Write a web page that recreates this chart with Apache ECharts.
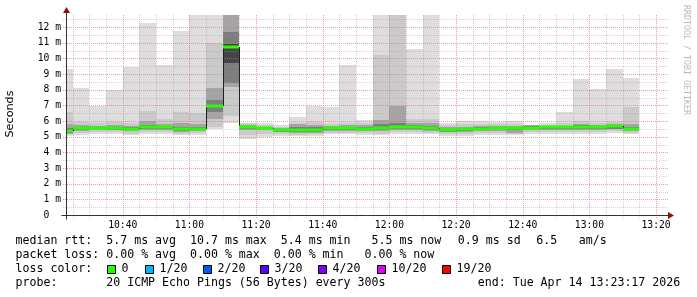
<!DOCTYPE html>
<html><head><meta charset="utf-8">
<script src="https://cdn.jsdelivr.net/npm/echarts@6/dist/echarts.min.js"></script>
<style>html,body{margin:0;padding:0;background:#fff}#c{width:697px;height:297px}</style>
</head><body><div id="c"></div>
<script>
// ---- data ----
const startTime = '10:23:17';
const endTime = '13:23:17';
const slotTimes = ['10:20','10:25','10:30','10:35','10:40','10:45','10:50','10:55','11:00','11:05','11:10','11:15','11:20','11:25','11:30','11:35','11:40','11:45','11:50','11:55','12:00','12:05','12:10','12:15','12:20','12:25','12:30','12:35','12:40','12:45','12:50','12:55','13:00','13:05','13:10'];
const median = [5.35,5.55,5.57,5.55,5.50,5.60,5.62,5.48,5.52,6.96,10.70,5.59,5.57,5.40,5.40,5.42,5.53,5.53,5.49,5.57,5.64,5.64,5.53,5.41,5.46,5.51,5.55,5.55,5.56,5.59,5.59,5.59,5.59,5.67,5.51];
const ping20 = [9.31,8.12,6.97,7.99,9.48,12.29,9.59,11.76,13.5,13.5,13.5,5.90,5.85,5.72,6.23,6.93,6.87,9.59,6.08,13.5,13.5,10.60,13.5,5.85,5.97,5.97,5.91,6.01,5.76,5.87,6.55,8.69,8.06,9.34,8.75];
const ping19 = [6.60,5.95,5.85,5.95,5.90,6.61,6.10,6.60,6.50,10.97,13.5,5.85,5.75,5.65,5.90,5.95,5.80,5.85,5.85,10.22,13.5,6.10,6.10,5.75,5.80,5.80,5.78,5.80,5.74,5.75,5.85,6.00,5.90,5.95,6.87];
const ping17 = [5.80,5.75,5.70,5.75,5.70,6.00,5.80,5.85,5.80,8.10,13.5,5.75,5.65,5.55,5.80,5.75,5.70,5.72,5.72,6.05,6.97,5.85,5.85,5.60,5.62,5.68,5.68,5.68,5.72,5.68,5.70,5.80,5.75,5.82,5.80];
const ping15 = [5.55,5.65,5.65,5.65,5.60,5.72,5.70,5.62,5.63,7.36,11.70,5.68,5.62,5.48,5.60,5.60,5.62,5.62,5.60,5.80,5.85,5.72,5.70,5.50,5.55,5.60,5.62,5.62,5.70,5.64,5.65,5.74,5.68,5.75,5.65];
const ping12 = [5.42,5.59,5.61,5.59,5.54,5.64,5.66,5.53,5.56,7.02,10.90,5.62,5.59,5.43,5.45,5.46,5.57,5.56,5.52,5.62,5.70,5.66,5.58,5.44,5.49,5.54,5.58,5.58,5.60,5.61,5.62,5.63,5.63,5.70,5.55];
const ping09 = [5.30,5.50,5.53,5.50,5.46,5.55,5.57,5.44,5.48,6.90,9.70,5.56,5.52,5.37,5.37,5.38,5.50,5.50,5.46,5.53,5.60,5.58,5.50,5.38,5.43,5.48,5.52,5.50,5.52,5.56,5.56,5.55,5.56,5.60,5.47];
const ping06 = [5.25,5.43,5.48,5.45,5.40,5.48,5.50,5.38,5.44,6.60,8.40,5.50,5.48,5.33,5.32,5.33,5.45,5.45,5.42,5.45,5.52,5.50,5.45,5.33,5.38,5.43,5.47,5.40,5.47,5.51,5.52,5.50,5.50,5.52,5.42];
const ping04 = [5.20,5.35,5.40,5.40,5.35,5.40,5.40,5.33,5.38,6.10,8.20,5.40,5.40,5.28,5.25,5.25,5.38,5.38,5.35,5.35,5.42,5.42,5.38,5.27,5.30,5.35,5.38,5.25,5.40,5.43,5.45,5.42,5.42,5.47,5.36];
const ping02 = [5.15,5.22,5.30,5.30,5.20,5.30,5.30,5.20,5.25,5.65,6.30,5.10,5.20,5.15,5.12,5.15,5.25,5.25,5.25,5.20,5.30,5.32,5.25,5.15,5.18,5.22,5.25,5.15,5.28,5.30,5.32,5.30,5.30,5.35,5.25];
const ping01 = [5.06,5.08,5.20,5.20,5.12,5.19,5.20,5.12,5.12,5.50,5.87,4.85,5.00,5.02,5.02,5.05,5.17,5.17,5.10,5.10,5.20,5.20,5.15,5.05,5.06,5.12,5.12,5.08,5.15,5.18,5.20,5.20,5.20,5.25,5.18];
const xTickLabels = ['10:40','11:00','11:20','11:40','12:00','12:20','12:40','13:00','13:20'];
const yTickValues = [0,1,2,3,4,5,6,7,8,9,10,11,12];
const lossLabels = ['0','1/20','2/20','3/20','4/20','10/20','19/20'];
const lossColors = ['#26ff00','#00b8ff','#0059ff','#5e00ff','#7e00ff','#dd00ff','#ff0000'];
const legendPieces = [
  ['median rtt:  5.7 ms avg  10.7 ms max  5.4 ms min   5.5 ms now', 0],
  ['0.9 ms sd', 0], ['6.5', 0], ['am/s', 0],
  ['packet loss: 0.00 % avg  0.00 % max  0.00 % min   0.00 % now', 1],
  ['loss color:', 2],
  ['probe:       20 ICMP Echo Pings (56 Bytes) every 300s', 3],
  ['end: Tue Apr 14 13:23:17 2026', 3]
];

// ---- helpers ----
const toMin = s => { const p = s.split(':').map(Number); return p[0]*60 + p[1] + (p[2]||0)/60; };
const X_MIN = toMin(startTime), X_MAX = toMin(endTime);
const Y_MAX = 12.77;
const SLOT = 5;
const slotMin = slotTimes.map(toMin);
const bands = [
  {lo: ping01, hi: ping20, color: '#dddddd'},
  {lo: ping02, hi: ping19, color: '#cacaca'},
  {lo: ping04, hi: ping17, color: '#a4a4a4'},
  {lo: ping06, hi: ping15, color: '#7e7e7e'},
  {lo: ping09, hi: ping12, color: '#454545'}
];
const fmtTime = v => { const h = Math.floor(v/60 + 1e-6); const m = Math.round(v - h*60); return h + ':' + (m<10?'0':'') + m; };

// grid lines
const gridData = [];
yTickValues.forEach(v => { if (v > 0) gridData.push([X_MIN, v, 1]); if (v + 0.5 < Y_MAX) gridData.push([X_MIN, v + 0.5, 0]); });
for (let t = Math.ceil(X_MIN/5)*5; t < X_MAX; t += 5) gridData.push([t, 0, (t % 20 === 0) ? 3 : 2]);

const chart = echarts.init(document.getElementById('c'), null, {renderer: 'canvas'});

function slotX(api, i) {
  const t0 = Math.max(slotMin[i], X_MIN), t1 = Math.min(slotMin[i] + SLOT, X_MAX);
  return [Math.round(api.coord([t0, 0])[0]), Math.round(api.coord([t1, 0])[0])];
}
function yPix(api, v) { return Math.round(api.coord([X_MIN, Math.min(v, Y_MAX)])[1]); }

const monoAxis = {fontFamily: 'DejaVu Sans Mono', fontSize: 9.7, color: '#000'};

chart.setOption({
  animation: false,
  backgroundColor: '#fff',
  grid: {left: 67, top: 15, width: 600, height: 200},
  xAxis: {
    type: 'value', min: X_MIN, max: X_MAX,
    axisLine: {show: false}, axisTick: {show: false}, splitLine: {show: false},
    axisLabel: Object.assign({customValues: xTickLabels.map(toMin), formatter: v => fmtTime(v), margin: 5}, monoAxis)
  },
  yAxis: {
    type: 'value', min: 0, max: Y_MAX,
    axisLine: {show: false}, axisTick: {show: false}, splitLine: {show: false},
    axisLabel: Object.assign({customValues: yTickValues, formatter: v => v === 0 ? '0  ' : v + ' m', margin: 6}, monoAxis)
  },
  series: [
    {
      type: 'custom', z: 2, silent: true,
      data: slotMin.map((t, i) => [t, median[i]]),
      renderItem: (params, api) => {
        const i = params.dataIndex;
        const [xa, xb] = slotX(api, i);
        const children = bands.map(b => {
          const ylo = yPix(api, b.lo[i]), yhi = yPix(api, b.hi[i]);
          return {type: 'rect', shape: {x: xa, y: yhi, width: xb - xa, height: ylo - yhi}, style: {fill: b.color}};
        });
        return {type: 'group', children};
      }
    },
    {
      type: 'custom', z: 3, silent: true,
      data: gridData,
      renderItem: (params, api) => {
        const d = gridData[params.dataIndex];
        const left = api.coord([X_MIN, 0])[0], right = api.coord([X_MAX, 0])[0];
        const bottom = api.coord([X_MIN, 0])[1], top = api.coord([X_MIN, Y_MAX])[1];
        const major = d[2] === 1 || d[2] === 3;
        const style = {stroke: major ? 'rgba(225,110,110,0.65)' : 'rgba(160,160,160,0.45)', lineWidth: 1, lineDash: [1, 1]};
        if (d[2] < 2) {
          const y = Math.round(api.coord([X_MIN, d[1]])[1]) + 0.5;
          return {type: 'line', shape: {x1: left - 4, y1: y, x2: right + 2, y2: y}, style};
        }
        const x = Math.round(api.coord([d[0], 0])[0]) + 0.5;
        return {type: 'line', shape: {x1: x, y1: top, x2: x, y2: bottom + 3}, style};
      }
    },
    {
      type: 'custom', z: 4, silent: true,
      data: slotMin.map((t, i) => [t, median[i]]),
      renderItem: (params, api) => {
        const i = params.dataIndex;
        const [xa, xb] = slotX(api, i);
        const ym = yPix(api, median[i]);
        const children = [];
        if (i > 0) {
          const yp = yPix(api, median[i-1]);
          children.push({type: 'line', shape: {x1: xa + 0.5, y1: yp, x2: xa + 0.5, y2: ym}, style: {stroke: '#202020', lineWidth: 1}});
        }
        children.push({type: 'rect', shape: {x: xa, y: ym - 1.5, width: xb - xa, height: 3}, style: {fill: lossColors[0]}});
        return {type: 'group', children};
      }
    }
  ]
});

// axes, arrows, titles, legend
const o = chart.convertToPixel({gridIndex: 0}, [X_MIN, 0]);
const tr = chart.convertToPixel({gridIndex: 0}, [X_MAX, Y_MAX]);
const ax = Math.round(o[0]) - 0.5, ay = Math.round(o[1]) + 0.5;
const arrowColor = '#8b1010';
const g = [
  {type: 'line', shape: {x1: ax - 5, y1: ay, x2: tr[0] + 4, y2: ay}, style: {stroke: '#333', lineWidth: 1}, z: 10},
  {type: 'line', shape: {x1: ax, y1: ay + 4, x2: ax, y2: tr[1] - 3}, style: {stroke: '#333', lineWidth: 1}, z: 10},
  {type: 'polygon', shape: {points: [[tr[0] + 7, ay], [tr[0] + 1, ay - 3.5], [tr[0] + 1, ay + 3.5]]}, style: {fill: arrowColor}, z: 10},
  {type: 'polygon', shape: {points: [[ax, tr[1] - 8], [ax - 3.5, tr[1] - 2], [ax + 3.5, tr[1] - 2]]}, style: {fill: arrowColor}, z: 10},
  {type: 'text', x: 10, y: 114, rotation: Math.PI/2, style: {text: 'Seconds', align: 'center', verticalAlign: 'middle', font: '11.2px "DejaVu Sans"', fill: '#000'}, z: 10},
  {type: 'text', x: 686.5, y: 60, rotation: -Math.PI/2, style: {text: 'RRDTOOL / TOBI OETIKER', align: 'center', verticalAlign: 'middle', font: '8.3px "DejaVu Sans Mono"', fill: '#b8b8b8'}, z: 10}
];
const legendY = [241, 255, 269, 283];
const legendX = [15.5, 457.8, 536.2, 578.8, 15.5, 15.5, 15.5, 477.8];
legendPieces.forEach((p, k) => {
  g.push({type: 'text', x: legendX[k], y: legendY[p[1]], style: {text: p[0], align: 'left', verticalAlign: 'middle', font: '11.6px "DejaVu Sans Mono"', fill: '#000'}, z: 10});
});
const boxX = [107.5, 145.5, 203.5, 260.5, 318.5, 377.5, 442.5];
lossLabels.forEach((lab, k) => {
  g.push({type: 'rect', shape: {x: boxX[k], y: 265.5, width: 8, height: 8}, style: {fill: lossColors[k], stroke: '#000', lineWidth: 1}, z: 10});
  g.push({type: 'text', x: boxX[k] + 14, y: 269, style: {text: lab, align: 'left', verticalAlign: 'middle', font: '11.6px "DejaVu Sans Mono"', fill: '#000'}, z: 10});
});
chart.setOption({graphic: g});
</script>
</body></html>
